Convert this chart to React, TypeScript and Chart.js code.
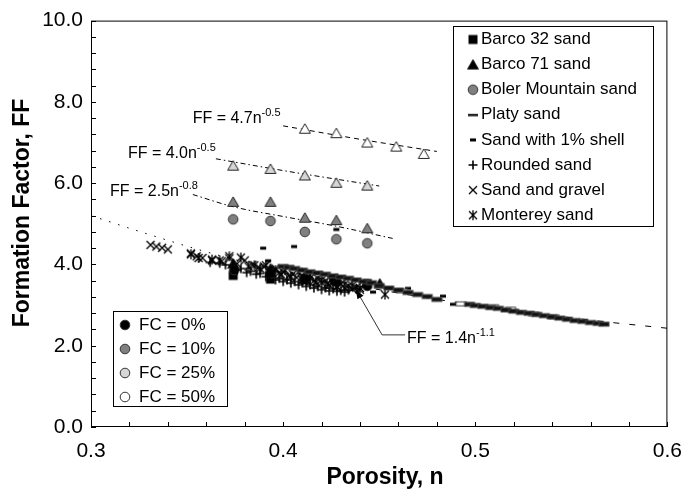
import React, { useEffect, useRef } from "react";
import { Chart, registerables } from "chart.js";

Chart.register(...registerables);

// ---------- axis ticks ----------
const xMajor = [0.3, 0.4, 0.5, 0.6];
const yMajor = [0, 2, 4, 6, 8, 10];
const xMinor = [0.32, 0.34, 0.36, 0.38, 0.4, 0.42, 0.44, 0.46, 0.48, 0.5, 0.52, 0.54, 0.56, 0.58];
const yMinor = [0.4, 0.8, 1.2, 1.6, 2, 2.4, 2.8, 3.2, 3.6, 4, 4.4, 4.8, 5.2, 5.6, 6, 6.4, 6.8, 7.2, 7.6, 8, 8.4, 8.8, 9.2, 9.6];

// ---------- data (porosity n, formation factor FF) ----------
const barco32Fc0N = [0.374, 0.3934, 0.4113, 0.4277, 0.4438];
const barco32Fc0FF = [3.73, 3.64, 3.62, 3.58, 3.53];

const barco71Fc0N = [0.374, 0.3934, 0.4113, 0.4277, 0.4503];
const barco71Fc0FF = [4.02, 3.9, 3.72, 3.65, 3.53];
const barco71Fc10N = [0.374, 0.3934, 0.4113, 0.4277, 0.4438];
const barco71Fc10FF = [5.54, 5.54, 5.15, 5.09, 4.89];
const barco71Fc25N = [0.374, 0.3934, 0.4113, 0.4277, 0.4438];
const barco71Fc25FF = [6.43, 6.35, 6.19, 6.01, 5.94];
const barco71Fc50N = [0.4113, 0.4277, 0.4438, 0.4589, 0.4732];
const barco71Fc50FF = [7.34, 7.23, 7.0, 6.9, 6.72];

const bolerFc0N = [0.3745, 0.3934, 0.4113, 0.4277, 0.4438];
const bolerFc0FF = [3.86, 3.78, 3.66, 3.58, 3.47];
const bolerFc10N = [0.374, 0.3934, 0.4113, 0.4277, 0.4438];
const bolerFc10FF = [5.11, 5.07, 4.8, 4.62, 4.52];

const platyFc0N = [0.4, 0.403, 0.406, 0.41, 0.414, 0.418, 0.422, 0.426, 0.43, 0.434, 0.438, 0.442, 0.446, 0.45, 0.455, 0.46, 0.465, 0.47, 0.475, 0.48, 0.497, 0.5, 0.504, 0.508, 0.512, 0.516, 0.52, 0.524, 0.528, 0.532, 0.536, 0.54, 0.544, 0.548, 0.552, 0.556, 0.56, 0.564, 0.567];
const platyFc0FF = [3.95, 3.93, 3.9, 3.86, 3.82, 3.79, 3.76, 3.72, 3.69, 3.66, 3.62, 3.58, 3.55, 3.48, 3.42, 3.37, 3.31, 3.26, 3.21, 3.14, 3.02, 2.99, 2.97, 2.94, 2.92, 2.88, 2.85, 2.82, 2.8, 2.77, 2.74, 2.71, 2.68, 2.65, 2.62, 2.6, 2.57, 2.55, 2.53];
const platyFc25N = [0.462, 0.5095, 0.541];
const platyFc25FF = [3.35, 2.96, 2.71];
const platyFc50N = [0.4927, 0.5184, 0.5304];
const platyFc50FF = [3.03, 2.9, 2.78];

const shellFc0N = [0.3896, 0.4057, 0.3922, 0.4277, 0.4468, 0.465, 0.4832, 0.4884];
const shellFc0FF = [4.4, 4.44, 4.09, 4.86, 3.32, 3.41, 3.22, 3.02];

const roundedFc0N = [0.362, 0.367, 0.37, 0.374, 0.376, 0.378, 0.381, 0.383, 0.386, 0.388, 0.391, 0.393, 0.396, 0.398, 0.4, 0.402, 0.404, 0.406, 0.408, 0.41, 0.412, 0.414, 0.416, 0.418, 0.42, 0.422, 0.424, 0.426, 0.428, 0.43, 0.432, 0.434, 0.438];
const roundedFc0FF = [4.05, 4.03, 3.99, 3.95, 3.86, 3.9, 3.8, 3.83, 3.76, 3.78, 3.7, 3.72, 3.62, 3.66, 3.58, 3.62, 3.54, 3.58, 3.5, 3.55, 3.46, 3.5, 3.42, 3.46, 3.38, 3.42, 3.35, 3.4, 3.34, 3.36, 3.32, 3.37, 3.4];

const gravelFc0N = [0.331, 0.334, 0.337, 0.34, 0.352, 0.355, 0.358, 0.363, 0.368, 0.372, 0.376, 0.38, 0.384, 0.387, 0.39, 0.393, 0.396, 0.398, 0.4, 0.403, 0.405, 0.407, 0.41, 0.412, 0.414, 0.416, 0.418, 0.42, 0.422, 0.424, 0.426, 0.428, 0.43, 0.432, 0.434, 0.436, 0.438, 0.44];
const gravelFc0FF = [4.48, 4.44, 4.41, 4.37, 4.27, 4.2, 4.16, 4.1, 4.08, 4.15, 4.02, 4.1, 3.99, 3.92, 3.95, 3.86, 3.9, 3.8, 3.82, 3.72, 3.76, 3.68, 3.7, 3.62, 3.74, 3.6, 3.66, 3.55, 3.6, 3.5, 3.55, 3.46, 3.52, 3.42, 3.47, 3.4, 3.43, 3.38];

const montereyFc0N = [0.352, 0.356, 0.363, 0.367, 0.372, 0.378, 0.382, 0.385, 0.388, 0.391, 0.394, 0.396, 0.399, 0.401, 0.404, 0.408, 0.41, 0.414, 0.417, 0.42, 0.423, 0.425, 0.428, 0.432, 0.436, 0.44, 0.453];
const montereyFc0FF = [4.25, 4.16, 4.12, 4.1, 4.2, 4.17, 3.95, 3.98, 3.9, 3.98, 3.8, 3.86, 3.75, 3.86, 3.7, 3.82, 3.62, 3.66, 3.56, 3.62, 3.52, 3.62, 3.45, 3.51, 3.48, 3.42, 3.26];

// ---------- trend lines ----------
const trend14aN = [0.3, 0.33, 0.36, 0.4, 0.44];
const trend14aFF = [5.2, 4.74, 4.31, 3.83, 3.46];
const trend14bN = [0.44, 0.48, 0.52, 0.56, 0.6];
const trend14bFF = [3.46, 3.14, 2.88, 2.63, 2.43];
const trend25N = [0.353, 0.374, 0.4, 0.4277, 0.457];
const trend25FF = [5.72, 5.42, 5.18, 4.94, 4.64];
const trend40N = [0.365, 0.4, 0.45];
const trend40FF = [6.6, 6.31, 5.93];
const trend47N = [0.4, 0.44, 0.48];
const trend47FF = [7.41, 7.08, 6.78];

// ---------- equation labels ----------
const eqBase = ["FF = 4.7n", "FF = 4.0n", "FF = 2.5n", "FF = 1.4n"];
const eqExp = ["-0.5", "-0.5", "-0.8", "-1.1"];
const eqN = [0.3529, 0.3192, 0.3099, 0.4645];
const eqFF = [7.49, 6.61, 5.68, 2.07];
const arrowTipN = 0.4379;
const arrowTipFF = 3.38;
const arrowElbowN = 0.4515;

// ---------- legends ----------
const sandLabels = ["Barco 32 sand", "Barco 71 sand", "Boler Mountain sand", "Platy sand", "Sand with 1% shell", "Rounded sand", "Sand and gravel", "Monterey sand"];
const fcLabels = ["FC = 0%", "FC = 10%", "FC = 25%", "FC = 50%"];

const FONT = '"Liberation Sans", Arial, Helvetica, sans-serif';
const FC_COLORS: Record<string, string> = { "0": "#000000", "10": "#808080", "25": "#d6d6d6", "50": "#ffffff" };

type Kind = "square" | "triangle" | "circle" | "platy" | "platyKey" | "shell" | "plus" | "cross" | "star";

function makeMarker(kind: Kind, fill: string): HTMLCanvasElement {
  const s = 16;
  const c = document.createElement("canvas");
  c.width = s;
  c.height = s;
  const ctx = c.getContext("2d")!;
  const m = s / 2;
  ctx.lineWidth = 1;
  ctx.strokeStyle = "#000";
  ctx.fillStyle = fill;
  switch (kind) {
    case "square":
      ctx.fillRect(m - 4.5, m - 4.5, 9, 9);
      break;
    case "triangle":
      ctx.beginPath();
      ctx.moveTo(m, m - 5);
      ctx.lineTo(m + 5.5, m + 4.5);
      ctx.lineTo(m - 5.5, m + 4.5);
      ctx.closePath();
      ctx.fill();
      ctx.strokeStyle = "#222";
      ctx.stroke();
      break;
    case "circle":
      ctx.beginPath();
      ctx.arc(m, m, 4.8, 0, Math.PI * 2);
      ctx.fill();
      ctx.strokeStyle = "#333";
      ctx.stroke();
      break;
    case "platy":
      ctx.fillRect(m - 5, m - 2, 10, 4);
      ctx.strokeStyle = "#444";
      ctx.strokeRect(m - 5, m - 2, 10, 4);
      break;
    case "platyKey":
      ctx.fillStyle = "#222";
      ctx.fillRect(m - 5, m - 1, 10, 2.5);
      break;
    case "shell":
      ctx.fillRect(m - 3, m - 1.5, 6, 3);
      break;
    case "plus":
      ctx.lineWidth = 1.6;
      ctx.beginPath();
      ctx.moveTo(m - 4.5, m);
      ctx.lineTo(m + 4.5, m);
      ctx.moveTo(m, m - 4.5);
      ctx.lineTo(m, m + 4.5);
      ctx.stroke();
      break;
    case "cross":
      ctx.lineWidth = 1.3;
      ctx.beginPath();
      ctx.moveTo(m - 4, m - 4);
      ctx.lineTo(m + 4, m + 4);
      ctx.moveTo(m + 4, m - 4);
      ctx.lineTo(m - 4, m + 4);
      ctx.stroke();
      break;
    case "star":
      ctx.lineWidth = 1.3;
      ctx.beginPath();
      ctx.moveTo(m - 4, m - 4);
      ctx.lineTo(m + 4, m + 4);
      ctx.moveTo(m + 4, m - 4);
      ctx.lineTo(m - 4, m + 4);
      ctx.moveTo(m, m - 5);
      ctx.lineTo(m, m + 5);
      ctx.stroke();
      break;
  }
  return c;
}

function pts(xs: number[], ys: number[]) {
  return xs.map((x, i) => ({ x, y: ys[i] }));
}

export default function App() {
  const ref = useRef<HTMLCanvasElement | null>(null);

  useEffect(() => {
    document.body.style.margin = "0";
    const canvas = ref.current;
    if (!canvas) return;

    const scatter = (xs: number[], ys: number[], kind: Kind, fc: string) => ({
      type: "scatter" as const,
      data: pts(xs, ys),
      pointStyle: makeMarker(kind, kind === "platy" && fc === "0" ? "#111" : FC_COLORS[fc]),
      showLine: false,
      order: 0,
    });
    const trend = (xs: number[], ys: number[], dash: number[]) => ({
      type: "scatter" as const,
      data: pts(xs, ys),
      showLine: true,
      pointRadius: 0,
      borderColor: "#000",
      borderWidth: 1,
      borderDash: dash,
      cubicInterpolationMode: "monotone" as const,
      order: 10,
    });

    const datasets: any[] = [
      trend(trend14aN, trend14aFF, [1.5, 8]),
      trend(trend14bN, trend14bFF, [6, 10]),
      trend(trend25N, trend25FF, [5, 3, 1.5, 3]),
      trend(trend40N, trend40FF, [5, 3, 1.5, 3]),
      trend(trend47N, trend47FF, [5, 4]),
      scatter(platyFc0N, platyFc0FF, "platy", "0"),
      scatter(platyFc25N, platyFc25FF, "platy", "25"),
      scatter(platyFc50N, platyFc50FF, "platy", "50"),
      scatter(shellFc0N, shellFc0FF, "shell", "0"),
      scatter(roundedFc0N, roundedFc0FF, "plus", "0"),
      scatter(gravelFc0N, gravelFc0FF, "cross", "0"),
      scatter(montereyFc0N, montereyFc0FF, "star", "0"),
      scatter(bolerFc0N, bolerFc0FF, "circle", "0"),
      scatter(bolerFc10N, bolerFc10FF, "circle", "10"),
      scatter(barco32Fc0N, barco32Fc0FF, "square", "0"),
      scatter(barco71Fc0N, barco71Fc0FF, "triangle", "0"),
      scatter(barco71Fc10N, barco71Fc10FF, "triangle", "10"),
      scatter(barco71Fc25N, barco71Fc25FF, "triangle", "25"),
      scatter(barco71Fc50N, barco71Fc50FF, "triangle", "50"),
    ];

    const sandKinds: Kind[] = ["square", "triangle", "circle", "platyKey", "shell", "plus", "cross", "star"];
    const sandFills = ["#000", "#000", "#808080", "#222", "#000", "#000", "#000", "#000"];
    const sandMarkers = sandKinds.map((k, i) => makeMarker(k, sandFills[i]));
    const fcMarkers = ["0", "10", "25", "50"].map((f) => makeMarker("circle", FC_COLORS[f]));

    const decor = {
      id: "decor",
      afterDatasetsDraw(chart: any) {
        const { ctx, chartArea: a, scales } = chart;
        const xs = scales.x;
        const ys = scales.y;
        ctx.save();
        // frame
        ctx.strokeStyle = "#000";
        ctx.lineWidth = 1;
        ctx.strokeRect(a.left + 0.5, a.top + 0.5, a.right - a.left - 1, a.bottom - a.top - 1);
        // inward ticks
        ctx.beginPath();
        [...xMajor, ...xMinor].forEach((v) => {
          const px = Math.round(xs.getPixelForValue(v)) + 0.5;
          ctx.moveTo(px, a.bottom);
          ctx.lineTo(px, a.bottom - 5);
        });
        [...yMajor, ...yMinor].forEach((v) => {
          const py = Math.round(ys.getPixelForValue(v)) + 0.5;
          ctx.moveTo(a.left, py);
          ctx.lineTo(a.left + 5, py);
        });
        ctx.stroke();

        // equation labels
        ctx.fillStyle = "#000";
        ctx.textBaseline = "alphabetic";
        ctx.textAlign = "left";
        eqBase.forEach((t, i) => {
          const px = xs.getPixelForValue(eqN[i]);
          const py = ys.getPixelForValue(eqFF[i]);
          ctx.font = `16px ${FONT}`;
          ctx.fillText(t, px, py);
          const w = ctx.measureText(t).width;
          ctx.font = `11px ${FONT}`;
          ctx.fillText(eqExp[i], px + w, py - 7);
        });

        // arrow for FF = 1.4n^-1.1
        const lx = xs.getPixelForValue(eqN[3]) - 2;
        const ly = ys.getPixelForValue(eqFF[3]) - 8;
        const ex = xs.getPixelForValue(arrowElbowN);
        const tx = xs.getPixelForValue(arrowTipN);
        const ty = ys.getPixelForValue(arrowTipFF);
        ctx.strokeStyle = "#333";
        ctx.lineWidth = 1;
        ctx.beginPath();
        ctx.moveTo(lx, ly);
        ctx.lineTo(ex, ly);
        ctx.lineTo(tx, ty);
        ctx.stroke();
        const ang = Math.atan2(ty - ly, tx - ex);
        ctx.fillStyle = "#000";
        ctx.beginPath();
        ctx.moveTo(tx, ty);
        ctx.lineTo(tx - 9 * Math.cos(ang) + 3.5 * Math.sin(ang), ty - 9 * Math.sin(ang) - 3.5 * Math.cos(ang));
        ctx.lineTo(tx - 9 * Math.cos(ang) - 3.5 * Math.sin(ang), ty - 9 * Math.sin(ang) + 3.5 * Math.cos(ang));
        ctx.closePath();
        ctx.fill();

        // legend 1 (sand types)
        const L1 = { x: 453, y: 26, w: 200, h: 200 };
        ctx.fillStyle = "#fff";
        ctx.fillRect(L1.x, L1.y, L1.w, L1.h);
        ctx.strokeStyle = "#000";
        ctx.strokeRect(L1.x + 0.5, L1.y + 0.5, L1.w, L1.h);
        ctx.font = `17px ${FONT}`;
        ctx.textBaseline = "middle";
        ctx.fillStyle = "#000";
        sandLabels.forEach((t, i) => {
          const cy = 39.5 + i * 25.1;
          ctx.drawImage(sandMarkers[i], 473 - 8, cy - 8);
          ctx.fillText(t, 481, cy);
        });

        // legend 2 (fines content)
        const L2 = { x: 113, y: 311, w: 114, h: 95 };
        ctx.fillStyle = "#fff";
        ctx.fillRect(L2.x, L2.y, L2.w, L2.h);
        ctx.strokeStyle = "#000";
        ctx.strokeRect(L2.x + 0.5, L2.y + 0.5, L2.w, L2.h);
        ctx.fillStyle = "#000";
        fcLabels.forEach((t, i) => {
          const cy = 325 + i * 24;
          ctx.drawImage(fcMarkers[i], 125 - 8, cy - 8);
          ctx.fillText(t, 139, cy);
        });

        // axis titles
        ctx.font = `bold 23px ${FONT}`;
        ctx.textAlign = "center";
        ctx.textBaseline = "middle";
        ctx.fillText("Porosity, n", 385, 478);
        ctx.save();
        ctx.translate(23, 213);
        ctx.rotate(-Math.PI / 2);
        ctx.fillText("Formation Factor, FF", 0, 0);
        ctx.restore();
        ctx.restore();
      },
    };

    const chart = new Chart(canvas, {
      type: "scatter",
      data: { datasets },
      options: {
        animation: false,
        responsive: false,
        events: [],
        layout: { padding: { top: 17, right: 25, left: 0, bottom: 0 } },
        plugins: { legend: { display: false }, tooltip: { enabled: false } },
        scales: {
          x: {
            type: "linear",
            min: 0.3,
            max: 0.6,
            grid: { display: false, drawTicks: false },
            border: { display: false },
            afterBuildTicks: (s: any) => {
              s.ticks = xMajor.map((v) => ({ value: v }));
            },
            afterFit: (s: any) => {
              s.height = 66;
            },
            ticks: {
              padding: 12,
              color: "#000",
              font: { family: FONT, size: 21 },
              callback: (v: any) => Number(v).toFixed(1),
            },
          },
          y: {
            type: "linear",
            min: 0,
            max: 10,
            grid: { display: false, drawTicks: false },
            border: { display: false },
            afterBuildTicks: (s: any) => {
              s.ticks = yMajor.map((v) => ({ value: v }));
            },
            afterFit: (s: any) => {
              s.width = 91;
            },
            ticks: {
              padding: 8,
              color: "#000",
              font: { family: FONT, size: 21 },
              callback: (v: any) => Number(v).toFixed(1),
            },
          },
        },
      },
      plugins: [decor],
    } as any);

    return () => chart.destroy();
  }, []);

  return (
    <div style={{ position: "absolute", left: 0, top: 0, width: 694, height: 493, background: "#fff" }}>
      <canvas ref={ref} width={694} height={493} />
    </div>
  );
}
